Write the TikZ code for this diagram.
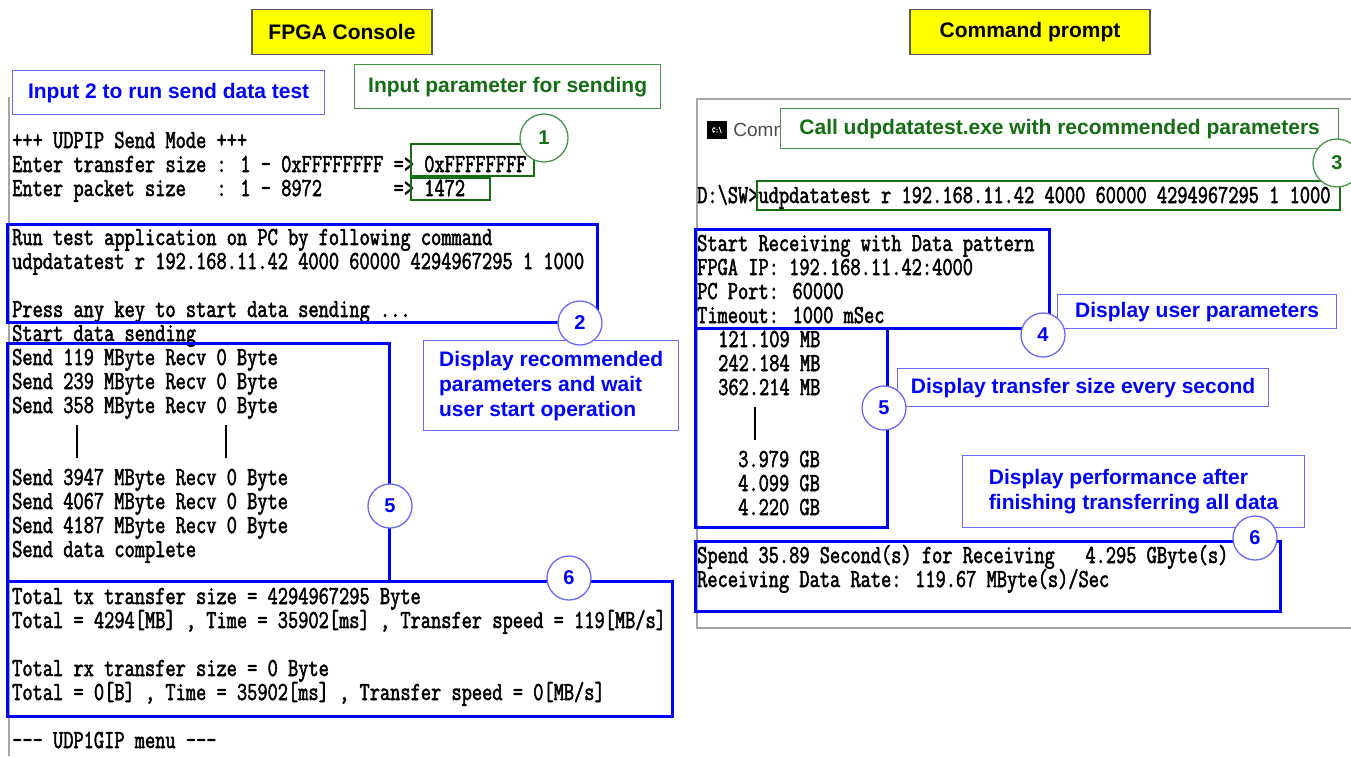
\documentclass[tikz,border=0pt]{standalone}
\usepackage{fontspec}
\setmainfont{Liberation Sans}
\newfontfamily\confont[FakeStretch=0.763,FakeBold=2,Ligatures=TeXOff]{Latin Modern Mono}
\usepackage{tikz}
\usetikzlibrary{positioning}
\definecolor{termblue}{RGB}{0,0,255}
\definecolor{noteblue}{RGB}{105,105,255}
\definecolor{termgreen}{RGB}{20,110,20}
\definecolor{notegreen}{RGB}{70,150,70}
\definecolor{titleyellow}{RGB}{255,255,0}

\begin{document}
\begin{tikzpicture}[
        x=1pt, y=-1pt, % 1 unidad = 1 pixel, y hacia abajo
        con/.style={anchor=base west, inner sep=0pt, font=\confont\fontsize{26}{26}\selectfont}, % texto de consola
        frameblue/.style={draw=termblue, line width=3pt}, % marcos azules
        framegreen/.style={draw=termgreen, line width=2.5pt}, % marcos verdes
        noteb/.style={draw=noteblue, line width=1.3pt, fill=white, text=termblue, align=left,
            inner sep=0pt, font=\bfseries\fontsize{21}{25}\selectfont}, % notas azules
        noteg/.style={noteb, draw=notegreen, text=termgreen}, % notas verdes
        numb/.style={circle, draw=noteblue, line width=1.3pt, fill=white, text=termblue,
            minimum size=44pt, inner sep=0pt, font=\bfseries\fontsize{20}{20}\selectfont}, % numeros
        numg/.style={numb, draw=notegreen, text=termgreen, minimum size=48pt},
        title/.style={draw=black!65, line width=1.2pt, fill=titleyellow, inner sep=0pt,
            font=\bfseries\fontsize{21}{21}\selectfont}, % titulos amarillos
    ]
    \useasboundingbox (0,0) rectangle (1351,756);

    % --- Titulos ---
    \node[title, minimum width=180pt, minimum height=45pt] (fpga) at (342,32) {FPGA Console};
    \node[title, minimum width=240pt, minimum height=45pt] (cmd) at (1030,32) {Command prompt};

    % --- Bordes de las ventanas ---
    \draw[black!35, line width=1.5pt] (9,97) -- (9,756);
    \draw[black!35, line width=1.5pt] (1360,99) -- (697,99) -- (697,628) -- (1360,628);

    % --- Consola FPGA ---
    \node[con] (l1) at (12,148) {+++ UDPIP Send Mode +++};
    \node[con] (l2) at (12,172) {Enter transfer size : 1 - 0xFFFFFFFF => 0xFFFFFFFF};
    \node[con] (l3) at (12,196) {Enter packet size~~~: 1 - 8972~~~~~~~=> 1472};
    \node[con] (l4) at (12,245) {Run test application on PC by following command};
    \node[con] (l5) at (12,269) {udpdatatest r 192.168.11.42 4000 60000 4294967295 1 1000};
    \node[con] (l6) at (12,317) {Press any key to start data sending ...};
    \node[con] (l7) at (12,341) {Start data sending};
    \node[con] (s1) at (12,365) {Send 119 MByte Recv 0 Byte};
    \node[con] (s2) at (12,389) {Send 239 MByte Recv 0 Byte};
    \node[con] (s3) at (12,413) {Send 358 MByte Recv 0 Byte};
    \draw[line width=2pt] (77,425) -- (77,458);
    \draw[line width=2pt] (226,425) -- (226,458);
    \node[con] (s4) at (12,485) {Send 3947 MByte Recv 0 Byte};
    \node[con] (s5) at (12,509) {Send 4067 MByte Recv 0 Byte};
    \node[con] (s6) at (12,533) {Send 4187 MByte Recv 0 Byte};
    \node[con] (s7) at (12,557) {Send data complete};
    \node[con] (t1) at (12,604) {Total tx transfer size = 4294967295 Byte};
    \node[con] (t2) at (12,628) {Total = 4294[MB] , Time = 35902[ms] , Transfer speed = 119[MB/s]};
    \node[con] (t3) at (12,676) {Total rx transfer size = 0 Byte};
    \node[con] (t4) at (12,700) {Total = 0[B] , Time = 35902[ms] , Transfer speed = 0[MB/s]};
    \node[con] (menu) at (12,748) {--- UDP1GIP menu ---};

    % --- Consola PC ---
    \node[fill=black, minimum width=20pt, minimum height=18pt, inner sep=0pt, text=white,
        font=\confont\fontsize{8}{8}\selectfont] (icon) at (717,130) {C:\textbackslash};
    \node[right=6pt of icon, inner sep=0pt, text=black!70, font=\fontsize{19}{19}\selectfont] (comm) {Comm};
    \node[con] (p1) at (697,203) {D:\textbackslash SW>udpdatatest r 192.168.11.42 4000 60000 4294967295 1 1000};
    \node[con] (r1) at (697,251) {Start Receiving with Data pattern};
    \node[con] (r2) at (697,275) {FPGA IP: 192.168.11.42:4000};
    \node[con] (r3) at (697,299) {PC Port: 60000};
    \node[con] (r4) at (697,323) {Timeout: 1000 mSec};
    \node[con] (m1) at (718,347) {121.109 MB};
    \node[con] (m2) at (718,371) {242.184 MB};
    \node[con] (m3) at (718,395) {362.214 MB};
    \draw[line width=2pt] (755,407) -- (755,440);
    \node[con] (g1) at (738,467) {3.979 GB};
    \node[con] (g2) at (738,491) {4.099 GB};
    \node[con] (g3) at (738,515) {4.220 GB};
    \node[con] (e1) at (697,563) {Spend 35.89 Second(s) for Receiving~~~4.295 GByte(s)};
    \node[con] (e2) at (697,587) {Receiving Data Rate: 119.67 MByte(s)/Sec};

    % --- Marcos ---
    \draw[framegreen] (411,144) rectangle (534,176);
    \draw[framegreen] (411,178) rectangle (490,200);
    \draw[frameblue] (7,224) rectangle (597,322);
    \draw[frameblue] (7,343) rectangle (389,581);
    \draw[frameblue] (7,581) rectangle (672,716);
    \draw[framegreen] (757,181) rectangle (1340,210);
    \draw[frameblue] (695,229) rectangle (1049,328);
    \draw[frameblue] (695,328) rectangle (887,527);
    \draw[frameblue] (695,541) rectangle (1280,611);

    % --- Notas ---
    \node[noteb, anchor=north west, minimum width=312pt, minimum height=44pt] (n1) at (12,70) {Input 2 to run send data test};
    \node[noteg, anchor=north west, minimum width=306pt, minimum height=44pt] (n2) at (354,64) {Input parameter for sending};
    \node[noteb, anchor=north west, minimum width=255pt, minimum height=90pt] (n3) at (423,340)
        {Display recommended\\parameters and wait\\user start operation};
    \node[noteg, anchor=north west, minimum width=558pt, minimum height=40pt] (n4) at (780,108) {Call udpdatatest.exe with recommended parameters};
    \node[noteb, anchor=north west, minimum width=279pt, minimum height=34pt] (n5) at (1057,294) {Display user parameters};
    \node[noteb, anchor=north west, minimum width=371pt, minimum height=38pt] (n6) at (897,368) {Display transfer size every second};
    \node[noteb, anchor=north west, minimum width=342pt, minimum height=72pt] (n7) at (962,455)
        {Display performance after\\finishing transferring all data};

    % --- Numeros ---
    \node[numg] (c1) at (544,138) {1};
    \node[numb] (c2) at (580,323) {2};
    \node[numg] (c3) at (1337,163) {3};
    \node[numb] (c4) at (1043,335) {4};
    \node[numb] (c5a) at (390,506) {5};
    \node[numb] (c5b) at (884,408) {5};
    \node[numb] (c6a) at (569,578) {6};
    \node[numb] (c6b) at (1255,538) {6};
\end{tikzpicture}
\end{document}
